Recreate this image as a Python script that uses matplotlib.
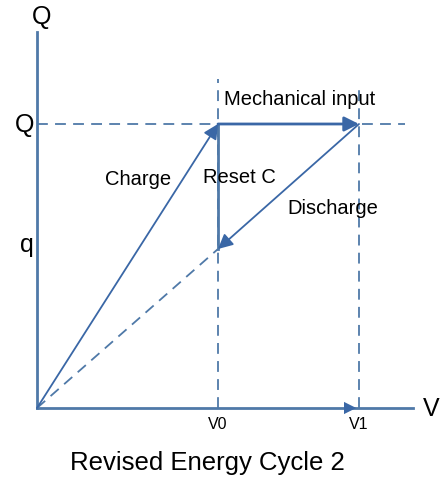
import matplotlib.pyplot as plt

plt.rcParams['font.family'] = ['Liberation Sans', 'DejaVu Sans']

# cycle values (arbitrary units)
V0, V1 = 1.81, 3.22
q, Q = 1.59, 2.84
axis_len = 3.76

line_c = '#4f79a8'
head_c = '#3a67a6'

fig = plt.figure(figsize=(4.43, 4.81), dpi=100)
ax = fig.add_axes([0, 0, 1, 1])
ax.set_xlim(-0.37, 4.06)
ax.set_ylim(-0.72, 4.09)
ax.axis('off')

# axes
ax.plot([0, axis_len], [0, 0], color=line_c, lw=2)
ax.plot([0, 0], [0, axis_len], color=line_c, lw=2)
ax.annotate('', xy=(V1, 0), xytext=(V1 - 0.3, 0),
            arrowprops=dict(arrowstyle='-|>', color=head_c, lw=0, mutation_scale=22))

# dashed guides
dash = dict(color=line_c, lw=1.3, ls=(0, (6, 4)))
ax.plot([0, 3.68], [Q, Q], **dash)
ax.plot([V0, V0], [0, 3.29], **dash)
ax.plot([V1, V1], [0, 3.24], **dash)
ax.plot([0, V0], [0, q], **dash)

# cycle arrows
def arrow(p0, p1, lw=1.3):
    ax.annotate('', xy=p1, xytext=p0,
                arrowprops=dict(arrowstyle='-|>', color=head_c, lw=lw,
                                mutation_scale=22, shrinkA=0, shrinkB=0))

arrow((0, 0), (V0, Q))
arrow((V0, Q), (V1, Q), lw=2)
arrow((V1, Q), (V0, q))
ax.plot([V0, V0], [q, Q], color=line_c, lw=2)

# labels
ax.text(0.05, 3.92, 'Q', fontsize=18, ha='center', va='center')
ax.text(-0.12, Q, 'Q', fontsize=18, ha='center', va='center')
ax.text(-0.1, 1.64, 'q', fontsize=18, ha='center', va='center')
ax.text(3.94, 0.0, 'V', fontsize=18, ha='center', va='center')
ax.text(V0, -0.16, 'V0', fontsize=11.5, ha='center', va='center')
ax.text(V1, -0.16, 'V1', fontsize=11.5, ha='center', va='center')
ax.text(1.87, 3.09, 'Mechanical input', fontsize=14.5, ha='left', va='center')
ax.text(0.68, 2.29, 'Charge', fontsize=14.5, ha='left', va='center')
ax.text(1.66, 2.31, 'Reset C', fontsize=14.5, ha='left', va='center')
ax.text(2.5, 2.0, 'Discharge', fontsize=14.5, ha='left', va='center')
ax.text(1.70, -0.54, 'Revised Energy Cycle 2', fontsize=18.5, ha='center', va='center')

fig.savefig('out.png', dpi=100)
